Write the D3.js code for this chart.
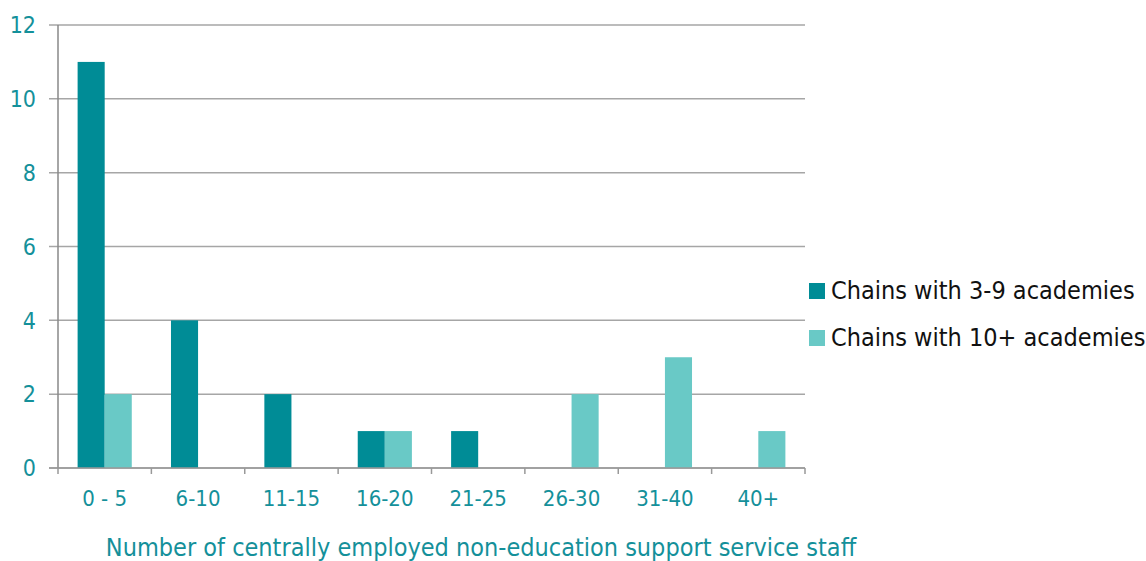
<!DOCTYPE html>
<html><head><meta charset="utf-8">
<script src="https://cdn.jsdelivr.net/npm/d3@7"></script>
<style>body{margin:0;background:#fff}svg{display:block}text{font-family:"DejaVu Sans Condensed","DejaVu Sans",Verdana,sans-serif;font-stretch:condensed}</style>
</head><body><svg id="c" width="1146" height="561"></svg>
<script>
const categories = ["0 - 5","6-10","11-15","16-20","21-25","26-30","31-40","40+"];
const series1 = [11,4,2,1,1,0,0,0];
const series2 = [2,0,0,1,0,2,3,1];
const seriesNames = ["Chains with 3-9 academies","Chains with 10+ academies"];
const yTicks = [0,2,4,6,8,10,12];
const colors = ["#008C96","#69C9C6"];

const svg = d3.select("#c");
const L=58, R=805, T=25, B=468;
const x = d3.scaleBand().domain(categories).range([L,R]).paddingInner(0.42).paddingOuter(0.21);
const y = d3.scaleLinear().domain([0,12]).range([B,T]);
const inner = d3.scaleBand().domain([0,1]).range([0,x.bandwidth()]);

// gridlines
svg.append("g").selectAll("line").data(yTicks).join("line")
  .attr("x1",L-9).attr("x2",R).attr("y1",d=>y(d)).attr("y2",d=>y(d))
  .attr("stroke","#a6a6a6").attr("stroke-width",1.5);
// y labels
svg.append("g").selectAll("text").data(yTicks).join("text")
  .attr("x",36).attr("y",d=>y(d)).attr("dy","0.36em").attr("text-anchor","end")
  .attr("fill","#14909a").attr("font-size",23).text(d=>d);

// bars
const data = categories.map((c,i)=>({c,v:[series1[i],series2[i]]}));
const g = svg.append("g");
data.forEach(d=>{
  d.v.forEach((v,j)=>{
    if(v>0) g.append("rect").attr("x",x(d.c)+inner(j)).attr("width",inner.bandwidth())
      .attr("y",y(v)).attr("height",y(0)-y(v)).attr("fill",colors[j]);
  });
});

// axes lines
svg.append("line").attr("x1",L).attr("x2",L).attr("y1",T).attr("y2",B).attr("stroke","#888").attr("stroke-width",1.5);
svg.append("line").attr("x1",L-9).attr("x2",R).attr("y1",B).attr("y2",B).attr("stroke","#999").attr("stroke-width",1.5);
const step = (R-L)/categories.length;
svg.append("g").selectAll("line").data(d3.range(categories.length+1)).join("line")
  .attr("x1",i=>L+i*step).attr("x2",i=>L+i*step).attr("y1",B).attr("y2",B+6)
  .attr("stroke","#999").attr("stroke-width",1.5);
// x labels
svg.append("g").selectAll("text").data(categories).join("text")
  .attr("x",(d,i)=>L+(i+0.5)*step)
  .attr("y",506).attr("text-anchor","middle").attr("fill","#14909a").attr("font-size",22).text(d=>d);
// axis title
svg.append("text").attr("x",481).attr("y",556).attr("text-anchor","middle").attr("fill","#14909a")
  .attr("font-size",25).text("Number of centrally employed non-education support service staff");

// legend
const lg = svg.append("g");
seriesNames.forEach((n,i)=>{
  lg.append("rect").attr("x",809).attr("y",283+i*47).attr("width",16).attr("height",16).attr("fill",colors[i]);
  lg.append("text").attr("x",831).attr("y",299+i*47).attr("fill","#111").attr("font-size",25).text(n);
});
</script></body></html>
